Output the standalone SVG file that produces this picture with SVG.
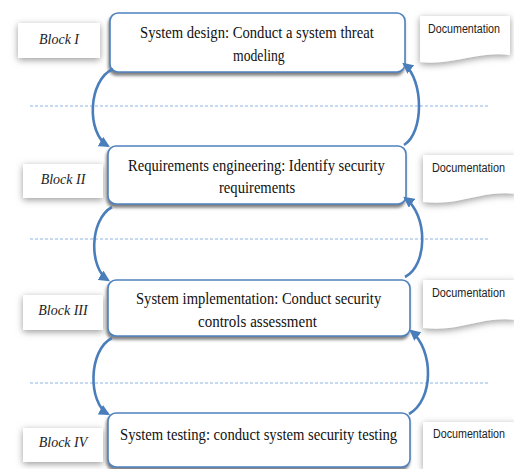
<svg xmlns="http://www.w3.org/2000/svg" width="514" height="469" viewBox="0 0 514 469">
  <defs>
    <filter id="boxShadow" x="-10%" y="-20%" width="120%" height="150%">
      <feDropShadow dx="-1" dy="3" stdDeviation="1.5" flood-color="#555" flood-opacity="0.75"/>
    </filter>
    <filter id="softShadow" x="-20%" y="-40%" width="140%" height="180%">
      <feDropShadow dx="0" dy="2" stdDeviation="3.5" flood-color="#777" flood-opacity="0.75"/>
    </filter>
    <marker id="head" viewBox="0 0 10 10" refX="8" refY="5" markerWidth="11" markerHeight="11" markerUnits="userSpaceOnUse" orient="auto">
      <path d="M0,0 L10,5 L0,10 z" fill="#4a7ebb"/>
    </marker>
    <style>
      .stage { fill: #fff; stroke: #4f81bd; stroke-width: 1.6; filter: url(#boxShadow); }
      .label { fill: #fff; stroke: none; filter: url(#softShadow); }
      .doc { fill: #fff; stroke: none; filter: url(#softShadow); }
      .main { font-size: 17px; fill: #111; }
      .blk { font-size: 14px; font-style: italic; fill: #222; text-anchor: middle; }
      .doctxt { font-size: 12px; fill: #222; }
      .sep { stroke: #8eb4e3; stroke-width: 1; stroke-dasharray: 3 2; fill: none; }
      .flow { stroke: #4a7ebb; stroke-width: 2.6; fill: none; marker-end: url(#head); }
    </style>
  </defs>

  <rect width="514" height="469" fill="#fff"/>

  <!-- dashed separators between phases -->
  <g id="separators">
    <line class="sep" x1="30" y1="106" x2="490" y2="106"/>
    <line class="sep" x1="30" y1="239" x2="490" y2="239"/>
    <line class="sep" x1="30" y1="383" x2="490" y2="383"/>
  </g>

  <!-- block labels -->
  <g id="block-1">
    <rect class="label" x="18" y="23" width="82" height="35"/>
    <text class="blk" font-family="Liberation Serif, DejaVu Serif, serif" x="59" y="44">Block I</text>
  </g>
  <g id="block-2">
    <rect class="label" x="23" y="164" width="80" height="34"/>
    <text class="blk" font-family="Liberation Serif, DejaVu Serif, serif" x="63" y="184">Block II</text>
  </g>
  <g id="block-3">
    <rect class="label" x="23" y="295" width="80" height="35"/>
    <text class="blk" font-family="Liberation Serif, DejaVu Serif, serif" x="63" y="315">Block III</text>
  </g>
  <g id="block-4">
    <rect class="label" x="23" y="428" width="80" height="34"/>
    <text class="blk" font-family="Liberation Serif, DejaVu Serif, serif" x="63" y="447">Block IV</text>
  </g>

  <!-- phase boxes (text is narrowed horizontally to fit the boxes) -->
  <g id="phase-design">
    <rect class="stage" x="110" y="13" width="295" height="59" rx="8"/>
    <text class="main" font-family="Liberation Serif, DejaVu Serif, serif" transform="translate(140,38) scale(0.82,1)" textLength="285" lengthAdjust="spacingAndGlyphs">System design: Conduct a system threat</text>
    <text class="main" font-family="Liberation Serif, DejaVu Serif, serif" transform="translate(233,61) scale(0.82,1)" textLength="63" lengthAdjust="spacingAndGlyphs">modeling</text>
  </g>
  <g id="phase-requirements">
    <rect class="stage" x="108" y="146" width="298" height="58" rx="8"/>
    <text class="main" font-family="Liberation Serif, DejaVu Serif, serif" transform="translate(128,171) scale(0.82,1)" textLength="313" lengthAdjust="spacingAndGlyphs">Requirements engineering: Identify security</text>
    <text class="main" font-family="Liberation Serif, DejaVu Serif, serif" transform="translate(219,193) scale(0.82,1)" textLength="93" lengthAdjust="spacingAndGlyphs">requirements</text>
  </g>
  <g id="phase-implementation">
    <rect class="stage" x="108" y="280" width="302" height="56" rx="8"/>
    <text class="main" font-family="Liberation Serif, DejaVu Serif, serif" transform="translate(136,304) scale(0.82,1)" textLength="299" lengthAdjust="spacingAndGlyphs">System implementation: Conduct security</text>
    <text class="main" font-family="Liberation Serif, DejaVu Serif, serif" transform="translate(198,327) scale(0.82,1)" textLength="145" lengthAdjust="spacingAndGlyphs">controls assessment</text>
  </g>
  <g id="phase-testing">
    <rect class="stage" x="108" y="413" width="302" height="54" rx="8"/>
    <text class="main" font-family="Liberation Serif, DejaVu Serif, serif" transform="translate(120,440) scale(0.82,1)" textLength="338" lengthAdjust="spacingAndGlyphs">System testing: conduct system security testing</text>
  </g>

  <!-- documentation sheets -->
  <g id="doc-1">
    <path class="doc" d="M420,16 H510 V55 C490,52 470,58 450,61 C438,63 428,63 420,62 Z"/>
    <text class="doctxt" font-family="Liberation Sans, Arial, sans-serif" x="428" y="33" textLength="72" lengthAdjust="spacingAndGlyphs">Documentation</text>
  </g>
  <g id="doc-2">
    <path class="doc" d="M423,155 H516 V194 C496,191 476,197 456,201 C444,203 434,203 423,202 Z"/>
    <text class="doctxt" font-family="Liberation Sans, Arial, sans-serif" x="432" y="172" textLength="73" lengthAdjust="spacingAndGlyphs">Documentation</text>
  </g>
  <g id="doc-3">
    <path class="doc" d="M423,280 H516 V320 C496,317 476,323 456,327 C444,329 434,329 423,328 Z"/>
    <text class="doctxt" font-family="Liberation Sans, Arial, sans-serif" x="432" y="297" textLength="73" lengthAdjust="spacingAndGlyphs">Documentation</text>
  </g>
  <g id="doc-4">
    <path class="doc" d="M423,422 H516 V469 H423 Z"/>
    <text class="doctxt" font-family="Liberation Sans, Arial, sans-serif" x="433" y="438" textLength="72" lengthAdjust="spacingAndGlyphs">Documentation</text>
  </g>

  <!-- curved flow arrows: down on the left, back up on the right -->
  <g id="connectors">
    <path class="flow" d="M113,69 C88,80 86,133 108,146"/>
    <path class="flow" d="M404,145 C424,133 424,80 404,64"/>
    <path class="flow" d="M112,207 C89,220 89,268 108,280"/>
    <path class="flow" d="M405,277 C428,265 428,215 405,198"/>
    <path class="flow" d="M112,338 C88,350 88,403 108,414"/>
    <path class="flow" d="M409,414 C434,400 434,350 411,331"/>
  </g>
</svg>
